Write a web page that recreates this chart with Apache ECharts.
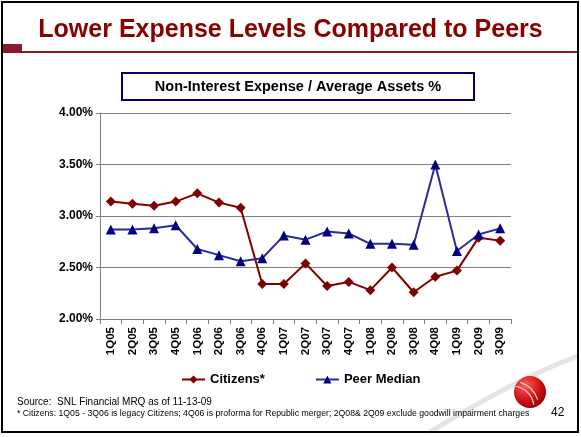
<!DOCTYPE html>
<html>
<head>
<meta charset="utf-8">
<script src="https://cdn.jsdelivr.net/npm/echarts@6/dist/echarts.min.js"></script>
<style>
html,body{margin:0;padding:0;background:#fff;}
#c{width:581px;height:437px;}
</style>
</head>
<body>
<div id="c"></div>
<script>
var categories = ['1Q05','2Q05','3Q05','4Q05','1Q06','2Q06','3Q06','4Q06','1Q07','2Q07','3Q07','4Q07','1Q08','2Q08','3Q08','4Q08','1Q09','2Q09','3Q09'];
var citizens = [3.14,3.12,3.10,3.14,3.22,3.13,3.08,2.34,2.34,2.54,2.32,2.36,2.28,2.50,2.26,2.41,2.47,2.79,2.76];
var peerMedian = [2.87,2.87,2.88,2.91,2.68,2.62,2.56,2.59,2.81,2.77,2.85,2.83,2.73,2.73,2.72,3.50,2.66,2.82,2.88];
var yTicks = [2.0,2.5,3.0,3.5,4.0];

var chart = echarts.init(document.getElementById('c'));
var font = 'Arial, "Liberation Sans", sans-serif';
chart.setOption({
  animation: false,
  backgroundColor: '#ffffff',
  textStyle: {fontFamily: font},
  grid: {left: 100, right: 70, top: 113, bottom: 118},
  xAxis: {
    type: 'category',
    data: categories,
    boundaryGap: true,
    axisLine: {lineStyle: {color: '#808080', width: 1}},
    axisTick: {show: true, alignWithLabel: false, length: 5, lineStyle: {color: '#808080'}},
    axisLabel: {rotate: 90, color: '#000', fontWeight: 'bold', fontSize: 11.5, fontFamily: font, margin: 8, interval: 0}
  },
  yAxis: {
    type: 'value',
    min: yTicks[0], max: yTicks[yTicks.length-1], interval: 0.5,
    axisLine: {show: true, lineStyle: {color: '#808080'}},
    axisTick: {show: true, length: 4, lineStyle: {color: '#808080'}},
    splitLine: {lineStyle: {color: '#808080', width: 1}},
    axisLabel: {color: '#000', fontWeight: 'bold', fontSize: 12, fontFamily: font, margin: 7,
      formatter: function(v){ return v.toFixed(2) + '%'; }}
  },
  legend: {
    top: 368, left: 176,
    itemGap: 50, itemWidth: 23, itemHeight: 10,
    textStyle: {color: '#000', fontWeight: 'bold', fontSize: 13, fontFamily: font},
    data: ['Citizens*', 'Peer Median']
  },
  series: [
    {name: 'Citizens*', type: 'line', data: citizens, symbol: 'diamond', symbolSize: 10,
     lineStyle: {color: '#800000', width: 2}, itemStyle: {color: '#800000'}},
    {name: 'Peer Median', type: 'line', data: peerMedian, symbol: 'triangle', symbolSize: 10,
     lineStyle: {color: '#2b2b9c', width: 2}, itemStyle: {color: '#000080'}}
  ],
  graphic: [
    {type: 'rect', shape: {x: 2, y: 2, width: 576, height: 430}, style: {fill: 'none', stroke: '#000', lineWidth: 2}, z: 10},
    {type: 'text', left: 'center', top: 18, style: {text: 'Lower Expense Levels Compared to Peers', fill: '#880000', font: 'bold 25px ' + font}},
    {type: 'rect', shape: {x: 3, y: 51, width: 575, height: 2}, style: {fill: '#8b1a1a'}},
    {type: 'rect', shape: {x: 3, y: 44, width: 19, height: 8}, style: {fill: '#8b1a2a'}},
    {type: 'rect', shape: {x: 122, y: 73, width: 352, height: 27}, style: {fill: '#fff', stroke: '#000066', lineWidth: 2}},
    {type: 'text', x: 298, y: 87, style: {text: 'Non-Interest Expense / Average Assets %', fill: '#000', font: 'bold 14.5px ' + font, textAlign: 'center', textVerticalAlign: 'middle'}},
    {type: 'bezierCurve', shape: {x1: 430, y1: 432, x2: 578, y2: 356, cpx1: 490, cpy1: 395, cpx2: 540, cpy2: 370}, style: {stroke: '#e4e4e4', lineWidth: 5, fill: 'none'}, z: -1},
    {type: 'circle', shape: {cx: 530, cy: 392, r: 16}, style: {fill: {type: 'radial', x: 0.35, y: 0.3, r: 0.8, colorStops: [{offset: 0, color: '#ff5a5a'}, {offset: 0.6, color: '#cc1111'}, {offset: 1, color: '#800000'}]}}},
    {type: 'arc', shape: {cx: 512, cy: 408, r: 22, startAngle: -Math.PI*0.45, endAngle: -Math.PI*0.05}, style: {stroke: 'rgba(255,255,255,0.8)', lineWidth: 1.2, fill: 'none'}},
    {type: 'arc', shape: {cx: 512, cy: 408, r: 27, startAngle: -Math.PI*0.4, endAngle: -Math.PI*0.1}, style: {stroke: 'rgba(255,255,255,0.8)', lineWidth: 1.2, fill: 'none'}},
    {type: 'text', x: 17, y: 397, style: {text: 'Source:  SNL Financial MRQ as of 11-13-09', fill: '#000', font: '10px ' + font}},
    {type: 'text', x: 17, y: 409, style: {text: '* Citizens: 1Q05 - 3Q06 is legacy Citizens; 4Q06 is proforma for Republic merger; 2Q08& 2Q09 exclude goodwill impairment charges', fill: '#000', font: '8.7px ' + font}},
    {type: 'text', x: 551, y: 407, style: {text: '42', fill: '#000', font: '12px ' + font}}
  ]
});
</script>
</body>
</html>
